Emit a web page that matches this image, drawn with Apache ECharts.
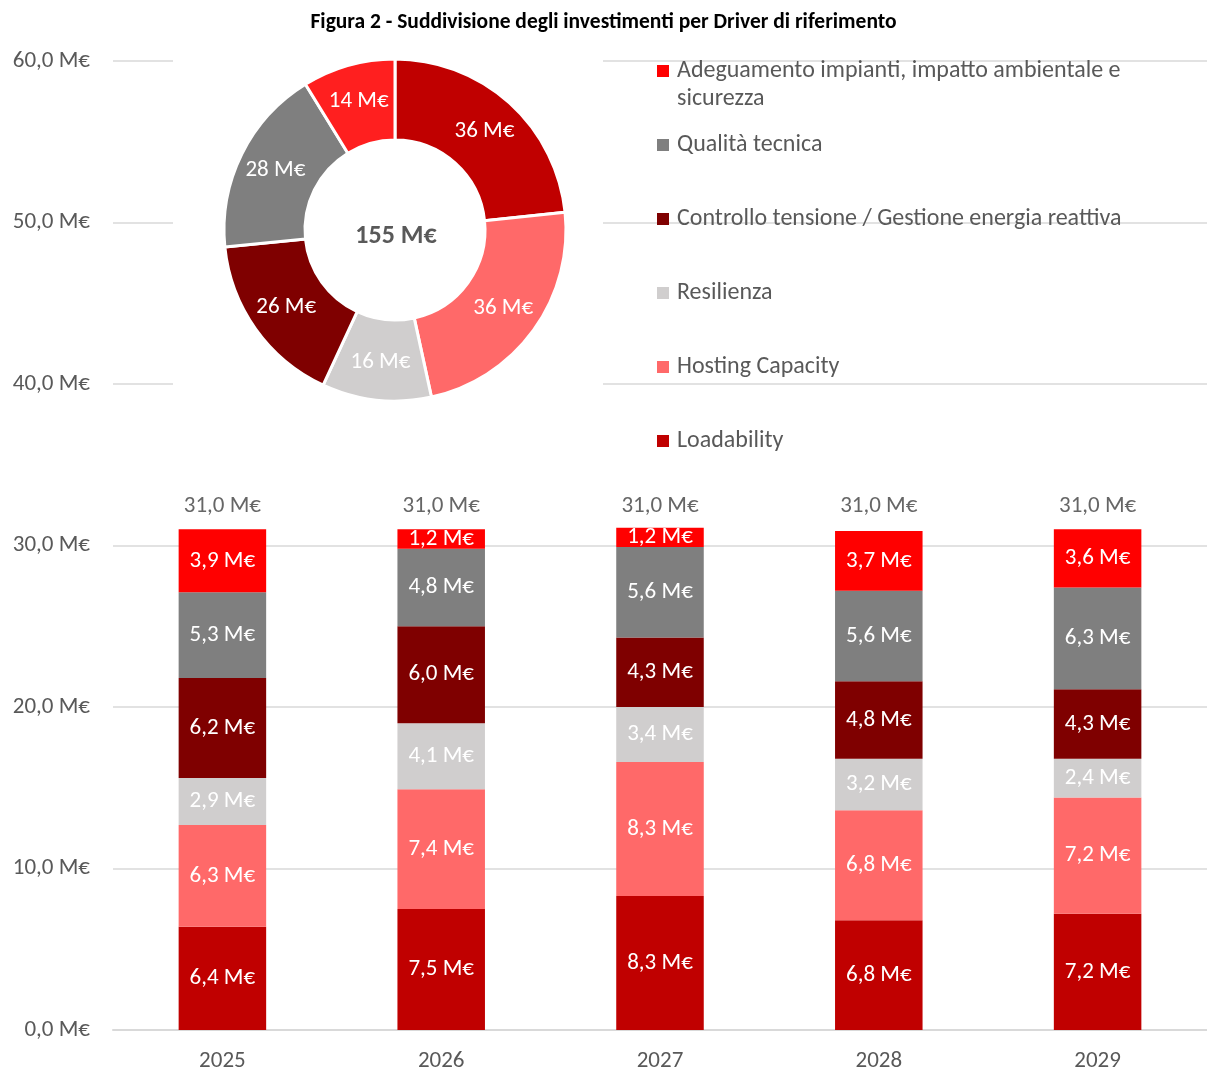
<!DOCTYPE html>
<html>
<head>
<meta charset="utf-8">
<script src="https://cdn.jsdelivr.net/npm/echarts@6/dist/echarts.min.js"></script>
<style>
html,body{margin:0;padding:0;background:#fff;}
#chart{width:1207px;height:1073px;}
</style>
</head>
<body>
<div id="chart"></div>
<script>
const years = ['2025', '2026', '2027', '2028', '2029'];
const seriesNames = [
  'Loadability',
  'Hosting Capacity',
  'Resilienza',
  'Controllo tensione / Gestione energia reattiva',
  'Qualità tecnica',
  'Adeguamento impianti, impatto ambientale e sicurezza'
];
const loadability = [6.4, 7.5, 8.3, 6.8, 7.2];
const hostingCapacity = [6.3, 7.4, 8.3, 6.8, 7.2];
const resilienza = [2.9, 4.1, 3.4, 3.2, 2.4];
const controlloTensione = [6.2, 6.0, 4.3, 4.8, 4.3];
const qualitaTecnica = [5.3, 4.8, 5.6, 5.6, 6.3];
const adeguamento = [3.9, 1.2, 1.2, 3.7, 3.6];
const yearTotals = [31.0, 31.0, 31.0, 31.0, 31.0];
const pieValues = [36.2, 36.0, 16.0, 25.6, 27.6, 13.6];
const yTicks = [0, 10, 20, 30, 40, 50, 60];

const barColors = ['#C00000', '#FF6969', '#D0CECE', '#7F0000', '#7F7F7F', '#FF0000'];
const pieColors = ['#C00000', '#FF6969', '#D0CECE', '#7F0000', '#7F7F7F', '#FF1F1F'];
const seriesData = [loadability, hostingCapacity, resilienza, controlloTensione, qualitaTecnica, adeguamento];

const FONT = 'Carlito, Lato, sans-serif';
const FS = 23;
const fmt1 = v => v.toFixed(1).replace('.', ',') + ' M€';
const pieTotal = pieValues.reduce((a, b) => a + b, 0);

const barSeries = seriesNames.map((name, i) => ({
  name: name,
  type: 'bar',
  stack: 'total',
  barWidth: '40%',
  z: 3,
  itemStyle: { color: barColors[i] },
  label: {
    show: true,
    position: 'inside',
    color: '#fff',
    fontFamily: FONT,
    fontSize: FS,
    formatter: p => fmt1(p.value)
  },
  data: seriesData[i]
}));

// legend layout: display order top -> bottom
const legendOrder = [5, 4, 3, 2, 1, 0];
const legendCenters = [71, 145, 219, 293, 367, 441];
const legends = legendOrder.map((idx, k) => {
  const isFirst = k === 0;
  return {
    data: [seriesNames[idx]],
    left: 657,
    top: isFirst ? legendCenters[k] - 42 : legendCenters[k] - 14,
    padding: 0,
    icon: 'rect',
    itemWidth: 12,
    itemHeight: 12,
    selectedMode: false,
    formatter: isFirst ? () => '\nAdeguamento impianti, impatto ambientale e\nsicurezza' : undefined,
    textStyle: {
      color: '#595959',
      fontFamily: FONT,
      fontSize: 24,
      lineHeight: 28,
      padding: [0, 0, 0, 3]
    }
  };
});

const option = {
  backgroundColor: '#fff',
  animation: false,
  title: {
    text: 'Figura 2 - Suddivisione degli investimenti per Driver di riferimento',
    left: 'center',
    top: 7,
    textStyle: { fontFamily: FONT, fontSize: 21.5, fontWeight: 'bold', color: '#000' }
  },
  legend: legends,
  grid: { left: 113, right: 0, top: 61, bottom: 41, containLabel: false },
  xAxis: {
    type: 'category',
    data: years,
    axisTick: { show: false },
    axisLine: { lineStyle: { color: '#D9D9D9', width: 2 } },
    axisLabel: { color: '#595959', fontFamily: FONT, fontSize: FS, margin: 20 }
  },
  yAxis: {
    type: 'value',
    min: yTicks[0],
    max: yTicks[yTicks.length - 1],
    interval: 10,
    axisLine: { show: false },
    axisTick: { show: false },
    splitLine: { lineStyle: { color: '#D9D9D9', width: 1.5 } },
    axisLabel: { color: '#595959', fontFamily: FONT, fontSize: FS, margin: 23, formatter: v => fmt1(v) }
  },
  graphic: [
    {
      type: 'rect',
      z: 1,
      shape: { x: 173, y: 40, width: 430, height: 380 },
      style: { fill: '#fff' }
    },
    {
      type: 'text',
      z: 10,
      x: 396,
      y: 236,
      style: {
        text: Math.round(pieTotal) + ' M€',
        align: 'center',
        verticalAlign: 'middle',
        fill: '#595959',
        fontFamily: FONT,
        fontSize: 26,
        fontWeight: 'bold'
      }
    }
  ],
  series: [
    ...barSeries,
    {
      name: 'Totale',
      type: 'scatter',
      symbolSize: 0,
      z: 4,
      label: {
        show: true,
        position: 'top',
        distance: 12,
        color: '#404040',
        fontFamily: FONT,
        fontSize: FS,
        formatter: p => fmt1(p.value)
      },
      data: yearTotals
    },
    {
      name: 'Pie',
      type: 'pie',
      z: 5,
      center: [395, 230],
      radius: [90, 171],
      startAngle: 90,
      clockwise: true,
      avoidLabelOverlap: false,
      itemStyle: { borderColor: '#fff', borderWidth: 3 },
      label: {
        show: true,
        position: 'inside',
        color: '#fff',
        fontFamily: FONT,
        fontSize: FS,
        formatter: p => Math.round(p.value) + ' M€'
      },
      labelLine: { show: false },
      emphasis: { disabled: true },
      data: seriesNames.map((name, i) => ({
        name: name,
        value: pieValues[i],
        itemStyle: { color: pieColors[i] }
      }))
    }
  ]
};

const chart = echarts.init(document.getElementById('chart'), null, { renderer: 'canvas' });
chart.setOption(option);
</script>
</body>
</html>
